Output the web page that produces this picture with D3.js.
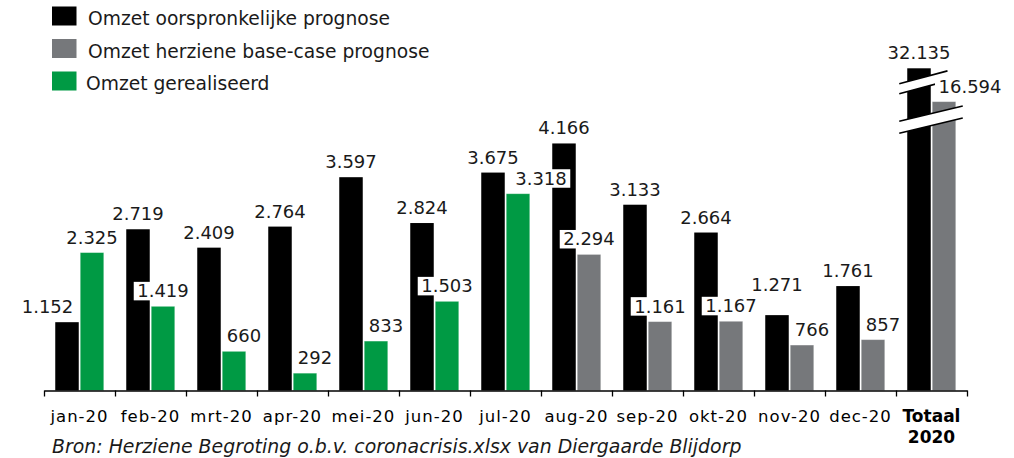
<!DOCTYPE html>
<html>
<head>
<meta charset="utf-8">
<script src="https://cdn.jsdelivr.net/npm/d3@7"></script>
<style>
  body { margin: 0; background: #fff; }
  svg { font-family: "DejaVu Sans", Verdana, sans-serif; }
</style>
</head>
<body>
<svg width="1014" height="458"></svg>
<script>
// data (x 1.000 euro)
const categories = ["jan-20", "feb-20", "mrt-20", "apr-20", "mei-20", "jun-20", "jul-20",
                    "aug-20", "sep-20", "okt-20", "nov-20", "dec-20", "Totaal 2020"];
const origineel  = [1152, 2719, 2409, 2764, 3597, 2824, 3675, 4166, 3133, 2664, 1271, 1761, 32135];
const herzien    = [null, null, null, null, null, null, null, 2294, 1161, 1167, 766, 857, 16594];
const gerealiseerd = [2325, 1419, 660, 292, 833, 1503, 3318, null, null, null, null, null, null];
const legendItems = ["Omzet oorspronkelijke prognose", "Omzet herziene base-case prognose", "Omzet gerealiseerd"];
const bron = "Bron: Herziene Begroting o.b.v. coronacrisis.xlsx van Diergaarde Blijdorp";

const colBlack = "#000000", colGray = "#76787b", colGreen = "#009a44";

const svg = d3.select("svg");
const left = 44, right = 967, baseY = 390.5;

const x = d3.scaleBand().domain(categories).range([left, right]);
// broken axis: months on a normal scale, the total bars squeezed above
const y = d3.scaleLinear().domain([0, 4430, 32135]).range([baseY, 127.8, 68.3]);

const barW = 23.5, gap = 1.5;

// rows for the second bar in each group
const second = categories.map((c, i) => gerealiseerd[i] != null
    ? { v: gerealiseerd[i], color: colGreen }
    : { v: herzien[i], color: colGray });

const g = svg.append("g");

// black bars
g.selectAll(".orig")
  .data(origineel)
  .enter().append("rect")
  .attr("class", "orig")
  .attr("x", (d, i) => x(categories[i]) + x.bandwidth() / 2 - barW - gap / 2)
  .attr("y", d => y(d))
  .attr("width", barW)
  .attr("height", d => baseY - y(d))
  .attr("fill", colBlack);

// green / gray bars
g.selectAll(".sec")
  .data(second)
  .enter().append("rect")
  .attr("class", "sec")
  .attr("x", (d, i) => x(categories[i]) + x.bandwidth() / 2 + gap / 2)
  .attr("y", d => y(d.v))
  .attr("width", barW)
  .attr("height", d => baseY - y(d.v))
  .attr("fill", d => d.color)
  .attr("stroke", "#ffffff")
  .attr("stroke-opacity", 0.35)
  .attr("stroke-width", 0.8);

// axis break marks on the total bars
const tot = categories.length - 1;
const tx = x(categories[tot]) + x.bandwidth() / 2;
function breakMark(x1, x2, yMid, slope, h) {
  const ya = xx => yMid + (xx - (x1 + x2) / 2) * slope;
  g.append("path")
    .attr("d", `M${x1},${ya(x1) - h / 2}L${x2},${ya(x2) - h / 2}L${x2},${ya(x2) + h / 2}L${x1},${ya(x1) + h / 2}Z`)
    .attr("fill", "#fff");
  [-h / 2, h / 2].forEach(o => {
    g.append("line")
      .attr("x1", x1).attr("y1", ya(x1) + o)
      .attr("x2", x2).attr("y2", ya(x2) + o)
      .attr("stroke", "#000").attr("stroke-width", 1.6);
  });
}
breakMark(tx - barW - gap / 2 - 8, tx + 16, y(origineel[tot]) + 14, -0.267, 10);
breakMark(tx - barW - gap / 2 - 8, tx + barW + gap / 2 + 7, y(herzien[tot]) + 18, -0.24, 12);

// x axis
const xTicks = d3.scaleLinear().domain([0, categories.length]).range([left, right]);
svg.append("g")
  .attr("transform", `translate(0,${baseY})`)
  .call(d3.axisBottom(xTicks).ticks(categories.length).tickSize(6).tickSizeOuter(0).tickFormat(""))
  .call(a => a.select(".domain").attr("stroke-width", 1.3))
  .call(a => a.selectAll(".tick line").attr("stroke-width", 1.3));

// category labels
svg.append("g").selectAll("text")
  .data(categories)
  .enter().append("text")
  .attr("x", d => x(d) + x.bandwidth() / 2)
  .attr("y", 421.5)
  .attr("text-anchor", "middle")
  .style("font-size", "16.5px")
  .style("letter-spacing", "1px")
  .style("font-weight", (d, i) => i === tot ? "bold" : null)
  .each(function(d, i) {
    const t = d3.select(this);
    if (i === tot) {
      const parts = d.split(" ");
      t.style("letter-spacing", "0px").style("font-size", "17px");
      t.append("tspan").attr("x", x(d) + x.bandwidth() / 2).text(parts[0]);
      t.append("tspan").attr("x", x(d) + x.bandwidth() / 2).attr("dy", 21).text(parts[1]);
    } else {
      t.text(d);
    }
  });

// value labels
const fmt = v => d3.format(",")(v).replace(/,/g, ".");
const labels = [];
origineel.forEach((v, i) => labels.push({ v, cx: x(categories[i]) + x.bandwidth() / 2 - barW / 2 - gap / 2, key: "o" + i }));
second.forEach((d, i) => labels.push({ v: d.v, cx: x(categories[i]) + x.bandwidth() / 2 + barW / 2 + gap / 2, key: "s" + i }));
// nudges where labels would collide
const nudgeX = { o0: -19.5, s6: 23, s12: 26 };
const nudgeY = { o10: -15 };

const lg = svg.append("g").style("font-size", "18px");
labels.forEach(d => {
  const small = d.v < 1000;
  const bx = small ? d.cx - barW / 2 + 4.5 : d.cx + (nudgeX[d.key] || 0);
  const by = y(d.v) - 9 + (nudgeY[d.key] || 0);
  const t = lg.append("text")
    .attr("x", bx)
    .attr("y", by)
    .attr("text-anchor", small ? "start" : "middle")
    .attr("fill", "#1a1a1a")
    .text(fmt(d.v));
  const bb = t.node().getBBox();
  lg.insert("rect", function() { return t.node(); })
    .attr("x", bb.x - 3.5)
    .attr("y", by - 15.5)
    .attr("width", bb.width + 7)
    .attr("height", 18.5)
    .attr("fill", "#fff");
});

// legend
const leg = svg.append("g");
const legColors = [colBlack, colGray, colGreen];
legendItems.forEach((name, i) => {
  leg.append("rect")
    .attr("x", 52).attr("y", 6.5 + i * 32.5)
    .attr("width", 24.5).attr("height", 19)
    .attr("fill", legColors[i]);
  leg.append("text")
    .attr("x", i === 2 ? 86 : 88)
    .attr("y", 25 + i * 32.7)
    .style("font-size", "18.7px")
    .attr("fill", "#1a1a1a")
    .text(name);
});

// source
svg.append("text")
  .attr("x", 52)
  .attr("y", 452.5)
  .style("font-size", "18.9px")
  .style("font-style", "italic")
  .attr("fill", "#1a1a1a")
  .text(bron);
</script>
</body>
</html>
